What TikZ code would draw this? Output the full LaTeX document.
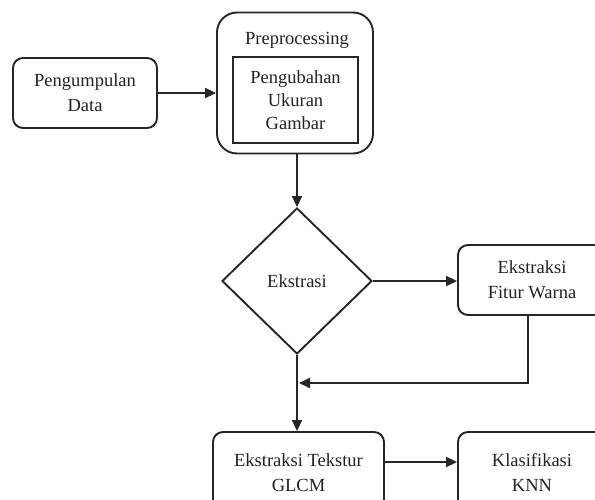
\documentclass[tikz,border=0pt]{standalone}
\usepackage{fontspec}
\setmainfont{Liberation Serif}
\usetikzlibrary{shapes.geometric,arrows.meta}
\definecolor{ln}{HTML}{262626}
\definecolor{tx}{HTML}{222222}
\tikzset{
  box/.style={draw=ln,line width=1.9pt,rounded corners=10pt,align=center,text=tx,
    font=\fontsize{18.5}{25}\selectfont,inner sep=0pt},
  plain/.style={align=center,text=tx,font=\fontsize{18.5}{23}\selectfont,inner sep=0pt},
  conn/.style={draw=ln,line width=1.9pt,-{Triangle[length=11pt,width=10pt]}},
  seg/.style={draw=ln,line width=1.9pt}
}
\begin{document}
\begin{tikzpicture}[x=1pt,y=-1pt]
\useasboundingbox (0,0) rectangle (595,500);
\fill[white] (0,0) rectangle (595,500);
\clip (0,0) rectangle (595,500);
\node[box,minimum width=144pt,minimum height=70pt] (data) at (85,93) {Pengumpulan\\Data};
\node[box,rounded corners=20pt,minimum width=156pt,minimum height=141pt] (pre) at (295,83) {};
\node[plain] (pret) at (297,40) {Preprocessing};
\node[draw=ln,line width=2.8pt,plain,minimum width=125pt,minimum height=86pt] (resize) at (295.5,100) {Pengubahan\\Ukuran\\Gambar};
\node[draw=ln,line width=1.9pt,diamond,plain,minimum width=150pt,minimum height=146pt,inner sep=0pt] (eks) at (297,281) {Ekstrasi};
\node[box,minimum width=148pt,minimum height=70pt] (warna) at (532,280) {Ekstraksi\\Fitur Warna};
\node[box,minimum width=171pt,minimum height=81pt] (glcm) at (298.5,472.5) {Ekstraksi Tekstur\\GLCM};
\node[box,minimum width=148pt,minimum height=81pt] (knn) at (532,472.5) {Klasifikasi\\KNN};
\coordinate (join) at (299,383);
\draw[conn] (data.east) -- (data.east -| pre.west);
\draw[conn] (pre.south -| eks.north) -- (eks.north);
\draw[conn] (eks.east) -- (warna.west |- eks.east);
\draw[conn] ([xshift=-4pt]warna.south) |- (join);
\draw[conn] (eks.south) -- (eks.south |- glcm.north);
\draw[conn] (glcm.east |- 0,462) -- (knn.west |- 0,462);
\end{tikzpicture}
\end{document}
